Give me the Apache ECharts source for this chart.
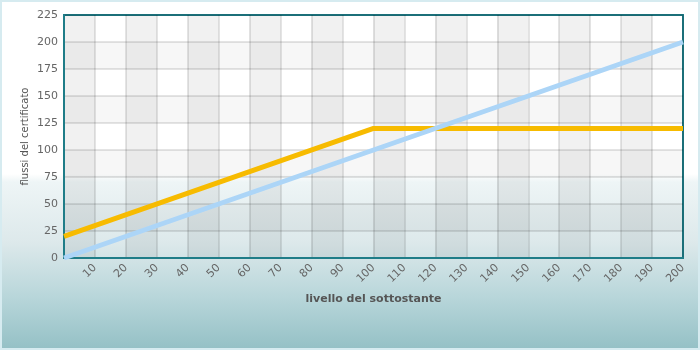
<!DOCTYPE html>
<html>
<head>
<meta charset="utf-8">
<script src="https://cdn.jsdelivr.net/npm/echarts@6/dist/echarts.min.js"></script>
<style>
html,body{margin:0;padding:0;}
#wrap{position:absolute;left:0;top:0;width:696px;height:346px;border:2px solid #d6ebf0;
background:linear-gradient(to bottom,#ffffff 0px,#ffffff 172px,#eef5f6 180px,#dde9eb 240px,#b8d6da 295px,#95c1c6 346px);}
#chart{width:700px;height:350px;position:absolute;left:-2px;top:-2px;}
</style>
</head>
<body>
<div id="wrap"><div id="chart"></div></div>
<script>
const xValues = [0, 100, 200];
const certificato = [20, 120, 120];
const sottostante = [0, 100, 200];
const xTicks = {min: 0, max: 200, interval: 10};
const yTicks = {min: 0, max: 225, interval: 25};
const xName = 'livello del sottostante';
const yName = 'flussi del certificato';

const chart = echarts.init(document.getElementById('chart'), null, {renderer: 'canvas'});
const labelStyle = {color: '#666', fontFamily: 'DejaVu Sans', fontSize: 11};
chart.setOption({
  animation: false,
  backgroundColor: 'transparent',
  grid: {left: 64, right: 17, top: 15, bottom: 92, show: true, borderColor: '#1f7d88', borderWidth: 2, backgroundColor: 'transparent'},
  xAxis: {
    type: 'value', min: xTicks.min, max: xTicks.max, interval: xTicks.interval,
    name: xName, nameLocation: 'middle', nameGap: 36, nameMoveOverlap: false,
    nameTextStyle: {color: '#555', fontFamily: 'DejaVu Sans', fontSize: 11, fontWeight: 'bold'},
    axisLine: {show: true, lineStyle: {color: '#1f7d88', width: 2}},
    axisTick: {show: false},
    axisLabel: Object.assign({rotate: 45, margin: 8, formatter: v => v === 0 ? '' : String(v)}, labelStyle),
    splitLine: {show: true, lineStyle: {color: 'rgba(0,0,0,0.14)', width: 1.5}},
    splitArea: {show: true, areaStyle: {color: ['rgba(0,0,0,0.055)', 'rgba(0,0,0,0)']}}
  },
  yAxis: {
    type: 'value', min: yTicks.min, max: yTicks.max, interval: yTicks.interval,
    name: yName, nameLocation: 'middle', nameGap: 34, nameMoveOverlap: false,
    nameTextStyle: {color: '#555', fontFamily: 'DejaVu Sans', fontSize: 10},
    axisLine: {show: true, lineStyle: {color: '#1f7d88', width: 2}},
    axisTick: {show: false},
    axisLabel: Object.assign({margin: 6}, labelStyle),
    splitLine: {show: true, lineStyle: {color: 'rgba(0,0,0,0.14)', width: 1.5}},
    splitArea: {show: true, areaStyle: {color: ['rgba(0,0,0,0)', 'rgba(0,0,0,0.03)']}}
  },
  series: [
    {type: 'line', data: xValues.map((x, i) => [x, certificato[i]]), showSymbol: false, symbol: 'none',
     lineStyle: {color: '#f7bb00', width: 5}, z: 2},
    {type: 'line', data: xValues.map((x, i) => [x, sottostante[i]]), showSymbol: false, symbol: 'none',
     lineStyle: {color: '#acd5f7', width: 5}, z: 3}
  ]
});
</script>
</body>
</html>
